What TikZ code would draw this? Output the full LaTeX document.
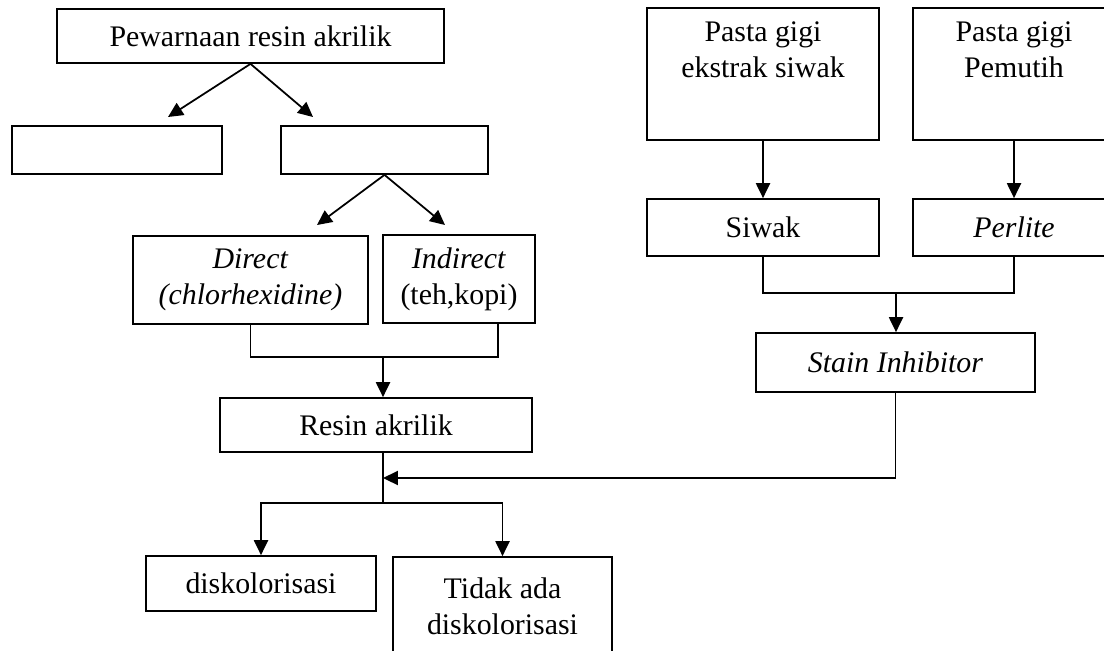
\documentclass[tikz,border=0pt]{standalone}
\usepackage{fontspec}
\setmainfont{Liberation Serif}
\usetikzlibrary{arrows.meta, positioning, calc}

\begin{document}
\begin{tikzpicture}[
    x=0.02cm, y=-0.02cm,
    font=\fontsize{17}{20.5}\selectfont,
    box/.style={draw, rectangle, line width=1pt, align=center, inner sep=2pt},
    arrow/.style={-{Triangle[width=8pt,length=8.5pt]}, line width=1pt},
    link/.style={line width=1pt}
]
\useasboundingbox (0,0) rectangle (1104,650);
\clip (0,0) rectangle (1104,650);

% Nodes
\node[box, minimum width=7.74cm, minimum height=1.08cm] (staining) at (250.5,36) {Pewarnaan resin akrilik};
\node[box, minimum width=4.2cm, minimum height=0.96cm] (blankleft) at (117,150) {};
\node[box, minimum width=4.14cm, minimum height=0.96cm] (blankright) at (384.5,150) {};
\node[box, minimum width=4.7cm, minimum height=1.76cm] (direct) at (250.5,280) {\textit{Direct}\\\textit{(chlorhexidine)}};
\node[box, minimum width=3.04cm, minimum height=1.76cm] (indirect) at (459,279) {\textit{Indirect}\\(teh,kopi)};
\node[box, minimum width=6.24cm, minimum height=1.08cm] (resin) at (376,425) {Resin akrilik};
\node[box, minimum width=4.6cm, minimum height=1.1cm] (discol) at (261,583.5) {diskolorisasi};
\node[box, minimum width=4.38cm, minimum height=1.96cm] (nodiscol) at (502.5,606) {Tidak ada\\diskolorisasi};

\node[box, minimum width=4.64cm, minimum height=2.64cm] (siwakpaste) at (763,74) {};
\node[anchor=north, align=center, inner sep=0pt] (siwakpastetxt) at ([yshift=-0.28cm]siwakpaste.north) {Pasta gigi\\ekstrak siwak};
\node[box, minimum width=4.04cm, minimum height=2.64cm] (whitepaste) at (1014,74) {};
\node[anchor=north, align=center, inner sep=0pt] (whitepastetxt) at ([yshift=-0.28cm]whitepaste.north) {Pasta gigi\\Pemutih};
\node[box, minimum width=4.64cm, minimum height=1.14cm] (siwak) at (763,227.5) {Siwak};
\node[box, minimum width=4.04cm, minimum height=1.14cm] (perlite) at (1014,227.5) {\textit{Perlite}};
\node[box, minimum width=5.58cm, minimum height=1.18cm] (stain) at (895.5,362.5) {\textit{Stain Inhibitor}};

% Junctions and arrow ends
\coordinate (lefttip) at (168,117);
\coordinate (righttip) at (313,117);
\coordinate (directtip) at (317,225);
\coordinate (indirecttip) at (445,225);
\coordinate (dimerge) at (383,357);
\coordinate (join) at (383,478);
\coordinate (split) at (383,503);
\coordinate (spmerge) at (896,293);

% Connections
\draw[arrow] (staining.south) -- (lefttip);
\draw[arrow] (staining.south) -- (righttip);
\draw[arrow] (blankright.south) -- (directtip);
\draw[arrow] (blankright.south) -- (indirecttip);
\draw[link] (direct.south) |- (dimerge) -| ($(indirect.south)+(39,0)$);
\draw[arrow] (dimerge) -- (dimerge |- resin.north);
\draw[link] (split |- resin.south) -- (split);
\draw[arrow] (split) -| (discol.north);
\draw[arrow] (split) -| (nodiscol.north);

\draw[arrow] (siwakpaste.south) -- (siwak.north);
\draw[arrow] (whitepaste.south) -- (perlite.north);
\draw[link] (siwak.south) |- (spmerge) -| (perlite.south);
\draw[arrow] (spmerge) -- (spmerge |- stain.north);
\draw[arrow] (stain.south) |- (join);

\end{tikzpicture}
\end{document}
